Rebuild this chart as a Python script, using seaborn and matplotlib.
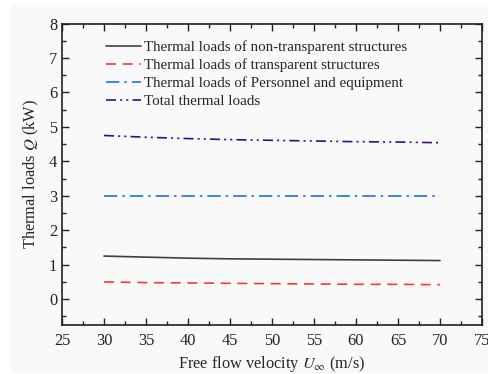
import numpy as np
import pandas as pd
import matplotlib
matplotlib.use("Agg")
import matplotlib.pyplot as plt
from matplotlib.patches import Rectangle
import seaborn as sns

velocity = [30, 35, 40, 45, 50, 55, 60, 65, 70]
non_transparent = [1.25, 1.22, 1.19, 1.17, 1.16, 1.15, 1.14, 1.13, 1.12]
transparent = [0.50, 0.48, 0.47, 0.46, 0.45, 0.44, 0.43, 0.43, 0.42]
personnel = [3.0, 3.0, 3.0, 3.0, 3.0, 3.0, 3.0, 3.0, 3.0]
total = [4.75, 4.70, 4.66, 4.63, 4.61, 4.59, 4.57, 4.56, 4.54]

labels = ["Thermal loads of non-transparent structures",
          "Thermal loads of transparent structures",
          "Thermal loads of Personnel and equipment",
          "Total thermal loads"]
series = [non_transparent, transparent, personnel, total]
colors = ["#404040", "#ff3333", "#1a73e8", "#3a0a80"]
dashes = [(None, None), (6, 4), (8, 3, 1.5, 3), (6, 2.5, 1.2, 2.5, 1.2, 2.5)]

sns.set_style("ticks")
plt.rcParams['font.family'] = ['Liberation Serif', 'DejaVu Serif']
plt.rcParams['mathtext.fontset'] = 'stix'

df = pd.DataFrame({"v": velocity * 4,
                   "Q": sum(series, []),
                   "s": sum([[l] * len(velocity) for l in labels], [])})

fig = plt.figure(figsize=(4.89, 3.74), dpi=100)
fig.patch.set_facecolor("white")
fig.patches.append(Rectangle((11 / 489, 1 / 374), 478 / 489, 369 / 374,
                             transform=fig.transFigure, facecolor="#f9f9f9",
                             edgecolor="none", zorder=-10))
ax = fig.add_axes([62 / 489, 1 - 325 / 374, (482 - 62) / 489, (325 - 23.5) / 374])
ax.set_facecolor("#f9f9f9")

for lab, col in zip(labels, colors):
    sub = df[df.s == lab]
    sns.lineplot(data=sub, x="v", y="Q", ax=ax, color=col, lw=1.2, label=lab)

for line, d in zip(ax.get_lines(), dashes):
    if d[0] is not None:
        line.set_dashes(d)

ax.set_xlim(25, 75)
ax.set_ylim(-0.75, 8)
ax.set_xticks(np.arange(25, 76, 5))
ax.set_yticks(np.arange(0, 9, 1))
ax.set_xticks(np.arange(25, 76, 2.5), minor=True)
ax.set_yticks(np.arange(-0.5, 8.01, 0.5), minor=True)
ax.tick_params(which="both", direction="in", top=True, right=True, labelsize=11.8, width=1, colors="#222222")
ax.tick_params(axis="x", which="major", pad=6)
ax.tick_params(which="major", length=5)
ax.tick_params(which="minor", length=3)
for s in ax.spines.values():
    s.set_linewidth(1.2)
    s.set_color("#222222")

ax.set_xlabel(r"Free flow velocity $U_{\infty}$ (m/s)", fontsize=11.8, labelpad=3)
ax.set_ylabel(r"Thermal loads $Q$ (kW)", fontsize=11.8, labelpad=6)

leg = ax.legend(loc="upper left", bbox_to_anchor=(0.08, 0.98), frameon=False, fontsize=10.8,
                handlelength=2.3, handletextpad=0.2, labelspacing=0.3, borderaxespad=0.3)
for h, d in zip(leg.get_lines(), dashes):
    if d[0] is not None:
        h.set_dashes(d)

fig.savefig("out.png", dpi=100, facecolor=fig.get_facecolor())
